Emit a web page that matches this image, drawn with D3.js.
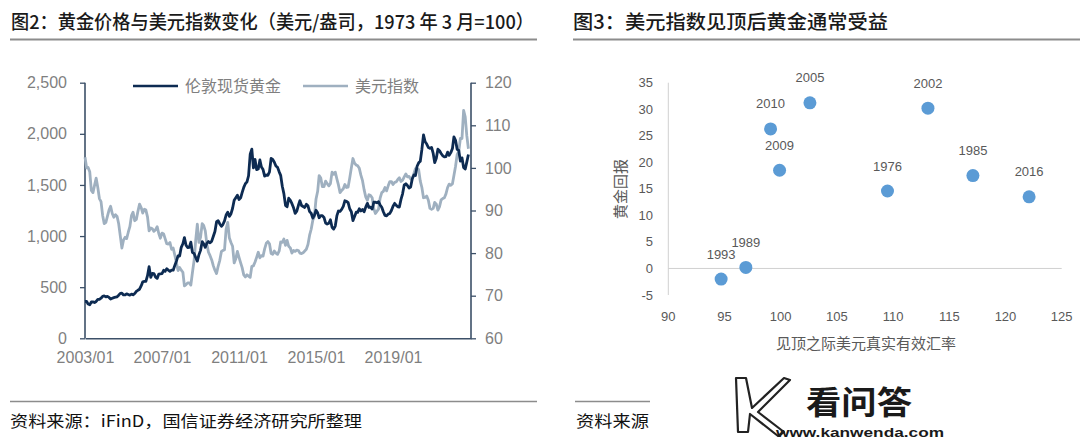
<!DOCTYPE html>
<html><head><meta charset="utf-8">
<script src="https://cdn.jsdelivr.net/npm/d3@7"></script>
<style>body{margin:0;background:#fff}svg{display:block}</style>
</head><body><svg id="c" width="1080" height="440"></svg>
<script>
// ---------- DATA ----------
const seriesStart = "2003-01"; // monthly series, Jan 2003 .. Dec 2022
const goldValues = [
 360,362,335,328,355,356,350,360,380,380,392,410,
 414,405,410,400,384,392,398,402,406,422,440,442,
 424,424,435,429,422,432,425,438,458,470,480,512,
 552,556,557,612,700,596,634,632,598,586,628,630,
 632,665,655,680,667,655,666,666,713,755,806,804,
 890,925,985,910,888,890,940,838,830,790,755,816,
 860,945,925,890,930,946,934,950,998,1045,1140,1150,
 1118,1096,1113,1149,1206,1234,1193,1216,1272,1350,1375,1400,
 1357,1374,1424,1476,1512,1530,1590,1800,1850,1666,1750,1650,
 1656,1744,1675,1650,1586,1597,1594,1627,1760,1750,1722,1685,
 1672,1628,1594,1488,1415,1300,1286,1370,1349,1317,1276,1222,
 1244,1301,1345,1299,1289,1280,1311,1296,1239,1223,1176,1202,
 1252,1227,1179,1199,1199,1182,1128,1118,1125,1159,1086,1068,
 1098,1200,1245,1242,1261,1290,1345,1340,1327,1267,1238,1151,
 1192,1234,1231,1267,1246,1260,1237,1283,1320,1280,1282,1265,
 1331,1331,1325,1335,1304,1282,1238,1202,1198,1215,1221,1250,
 1292,1320,1301,1286,1284,1359,1413,1500,1511,1495,1470,1479,
 1561,1597,1592,1683,1716,1732,1847,1990,1922,1900,1866,1858,
 1867,1808,1718,1760,1850,1835,1808,1785,1775,1777,1821,1790,
 1816,1856,1970,1937,1849,1837,1733,1765,1670,1655,1725,1798
];
const dxyValues = [
 102.5,100.0,100.1,99.1,94.7,94.2,95.9,97.6,95.4,92.8,92.1,88.9,
 86.9,87.2,88.6,90.1,91.0,89.3,88.4,89.0,88.6,86.9,84.0,81.2,
 83.1,83.7,83.4,84.9,86.2,88.8,89.6,87.6,87.9,89.8,91.5,90.7,
 89.4,90.3,90.1,88.5,85.2,85.9,85.7,85.1,85.5,86.2,84.6,83.5,
 84.7,84.5,83.4,82.2,82.1,82.5,80.9,81.2,79.5,77.8,75.9,76.6,
 76.0,75.5,72.3,72.6,73.0,73.0,72.5,75.5,78.3,83.0,86.8,82.5,
 83.7,86.9,86.5,85.2,82.1,80.2,79.4,78.4,77.0,76.0,75.2,76.9,
 78.3,80.4,80.6,80.8,85.6,87.2,83.6,82.5,81.6,77.7,78.7,80.4,
 79.0,77.7,76.6,74.9,74.4,74.9,74.6,74.3,76.9,77.0,77.9,79.0,
 80.2,78.9,79.4,79.3,81.0,82.3,82.7,82.2,79.9,79.7,80.5,80.0,
 79.7,80.5,82.6,82.5,83.3,81.8,83.0,81.6,81.2,80.0,80.6,80.4,
 80.7,80.6,80.0,79.9,80.1,80.5,80.9,82.0,84.2,85.6,87.7,88.6,
 92.7,94.5,98.2,97.6,95.6,95.6,96.9,96.3,95.8,96.3,99.0,98.5,
 99.0,97.4,96.0,94.2,94.7,95.1,96.1,95.4,95.5,97.6,100.0,102.2,
 101.1,100.7,100.5,99.9,98.3,97.0,94.9,93.2,92.4,93.7,93.5,93.0,
 90.4,89.3,89.8,90.3,92.9,94.2,94.5,95.4,94.6,95.8,96.8,96.8,
 96.1,96.6,96.7,97.3,97.7,96.8,97.1,97.9,98.6,97.9,98.0,97.4,
 97.5,98.7,99.8,99.8,99.6,96.9,95.4,93.0,93.1,93.4,92.4,90.5,
 90.3,90.5,91.9,91.5,90.1,90.9,92.5,92.8,93.0,93.9,95.4,96.2,
 95.9,96.3,98.2,100.4,103.1,103.9,106.9,106.9,113.5,112.0,107.5,104.5
];
const xTickLabels = ["2003/01","2007/01","2011/01","2015/01","2019/01"];
const goldTicks = [0,500,1000,1500,2000,2500];
const dxyTicks = [60,70,80,90,100,110,120];
const legendNames = ["伦敦现货黄金","美元指数"];

const scatterYears  = ["2005","2010","2009","2002","1976","1985","2016","1993","1989"];
const scatterDollar = [102.6, 99.1, 99.9, 113.1, 109.5, 117.1, 122.1, 94.7, 96.9];
const scatterGold   = [31.2, 26.3, 18.5, 30.2, 14.6, 17.5, 13.5, -2.0, 0.2];
const scatterXTicks = [90,95,100,105,110,115,120,125];
const scatterYTicks = [-5,0,5,10,15,20,25,30,35];

const title1 = "图2：黄金价格与美元指数变化（美元/盎司，1973 年 3 月=100）";
const title2 = "图3：美元指数见顶后黄金通常受益";
const source1 = "资料来源：iFinD，国信证券经济研究所整理";
const source2 = "资料来源";

// ---------- DRAW ----------
const svg = d3.select("#c");
const CJK = "'Noto Sans CJK SC','Noto Sans',sans-serif";
const LAT = "'Liberation Sans',Arial,sans-serif";
const GOLD = "#0d2b52", DXY = "#9fb0c0", AX = "#3c5068", TXT = "#7f7f7f";

// titles + rules
svg.append("text").attr("x",11).attr("y",29).text(title1)
  .attr("font-family",CJK).attr("font-size",19).attr("font-weight",500).attr("fill","#1a1a1a")
  .attr("textLength",523).attr("lengthAdjust","spacingAndGlyphs");
svg.append("text").attr("x",573).attr("y",29).text(title2)
  .attr("font-family",CJK).attr("font-size",19.5).attr("font-weight",500).attr("fill","#1a1a1a")
  .attr("textLength",315).attr("lengthAdjust","spacingAndGlyphs");
svg.append("line").attr("x1",10).attr("x2",537).attr("y1",39.5).attr("y2",39.5).attr("stroke","#8c8c8c").attr("stroke-width",2);
svg.append("line").attr("x1",573).attr("x2",1080).attr("y1",39.5).attr("y2",39.5).attr("stroke","#8c8c8c").attr("stroke-width",2);

// footers
svg.append("line").attr("x1",10).attr("x2",537).attr("y1",401.5).attr("y2",401.5).attr("stroke","#8c8c8c").attr("stroke-width",1.5);
svg.append("line").attr("x1",575).attr("x2",650).attr("y1",401.5).attr("y2",401.5).attr("stroke","#8c8c8c").attr("stroke-width",1.5);
svg.append("text").attr("x",10).attr("y",427).text(source1)
  .attr("font-family",CJK).attr("font-size",16).attr("fill","#111")
  .attr("textLength",352).attr("lengthAdjust","spacingAndGlyphs");
svg.append("text").attr("x",576).attr("y",427).text(source2)
  .attr("font-family",CJK).attr("font-size",16).attr("fill","#111")
  .attr("textLength",73).attr("lengthAdjust","spacingAndGlyphs");

// ---- left chart ----
const t0 = d3.timeParse("%Y-%m")(seriesStart);
const dates = goldValues.map((_,i)=>d3.timeMonth.offset(t0,i));
const x = d3.scaleTime().domain([new Date(2003,0,1), new Date(2023,0,19)]).range([85,471]);
const yL = d3.scaleLinear().domain([0,2500]).range([338.3,82.7]);
const yR = d3.scaleLinear().domain([60,120]).range([338.3,82.7]);

const gL = svg.append("g").attr("transform","translate(85,0)")
  .call(d3.axisLeft(yL).tickValues(goldTicks).tickFormat(d3.format(",")).tickSize(5).tickPadding(13));
const gR = svg.append("g").attr("transform","translate(471,0)")
  .call(d3.axisRight(yR).tickValues(dxyTicks).tickSize(5).tickPadding(9));
const xTickDates = xTickLabels.map(s=>d3.timeParse("%Y/%m")(s));
const gX = svg.append("g").attr("transform","translate(0,338.3)")
  .call(d3.axisBottom(x).tickValues(xTickDates).tickFormat(d3.timeFormat("%Y/%m")).tickSize(0).tickPadding(13));
[gL,gR,gX].forEach(g=>{
  g.selectAll(".domain").attr("stroke",AX).attr("stroke-width",1.6);
  g.selectAll(".tick line").attr("stroke",AX).attr("stroke-width",1.3);
  g.selectAll("text").attr("fill",TXT).attr("font-family",LAT).attr("font-size",16);
});
gL.select(".domain").attr("d","M0,82.7V338.3");
gR.select(".domain").attr("d","M0,82.7V338.3");

const lineDxy = d3.line().x((d,i)=>x(dates[i])).y(d=>yR(d));
const lineGold = d3.line().x((d,i)=>x(dates[i])).y(d=>yL(d));
svg.append("path").datum(dxyValues).attr("d",lineDxy).attr("fill","none").attr("stroke",DXY).attr("stroke-width",2.8).attr("stroke-linejoin","round");
svg.append("path").datum(goldValues).attr("d",lineGold).attr("fill","none").attr("stroke",GOLD).attr("stroke-width",2.8).attr("stroke-linejoin","round");

// legend
const leg = [{c:GOLD,x:133,name:legendNames[0]},{c:DXY,x:303,name:legendNames[1]}];
leg.forEach(l=>{
  svg.append("line").attr("x1",l.x).attr("x2",l.x+45).attr("y1",86).attr("y2",86).attr("stroke",l.c).attr("stroke-width",2.6);
  svg.append("text").attr("x",l.x+52).attr("y",92).text(l.name).attr("font-family",CJK).attr("font-size",16).attr("fill",TXT);
});

// ---- right chart ----
const sx = d3.scaleLinear().domain([90,125]).range([668.3,1061.7]);
const sy = d3.scaleLinear().domain([-5,35]).range([295,82.7]);
const SG = "#595959";
svg.append("line").attr("x1",sx(90)).attr("x2",sx(90)).attr("y1",sy(35)).attr("y2",sy(-5)).attr("stroke","#d0d0d0").attr("stroke-width",1);
svg.append("line").attr("x1",sx(90)).attr("x2",sx(125)).attr("y1",sy(0)).attr("y2",sy(0)).attr("stroke","#d0d0d0").attr("stroke-width",1);
svg.append("g").selectAll("text").data(scatterYTicks).join("text")
  .attr("x",653).attr("y",d=>sy(d)).attr("dy","0.35em").attr("text-anchor","end").text(d=>d)
  .attr("font-family",LAT).attr("font-size",13).attr("fill",SG);
svg.append("g").selectAll("text").data(scatterXTicks).join("text")
  .attr("x",d=>sx(d)).attr("y",316).attr("dy","0.35em").attr("text-anchor","middle").text(d=>d)
  .attr("font-family",LAT).attr("font-size",13).attr("fill",SG);
svg.append("text").attr("x",866).attr("y",349).attr("text-anchor","middle").text("见顶之际美元真实有效汇率")
  .attr("font-family",CJK).attr("font-size",15).attr("fill",SG);
svg.append("text").attr("transform","translate(626,189) rotate(-90)").attr("text-anchor","middle").text("黄金回报")
  .attr("font-family",CJK).attr("font-size",15).attr("fill",SG);
const pts = scatterYears.map((y,i)=>({y,dx:scatterDollar[i],g:scatterGold[i]}));
svg.append("g").selectAll("circle").data(pts).join("circle")
  .attr("cx",d=>sx(d.dx)).attr("cy",d=>sy(d.g)).attr("r",6.5).attr("fill","#5b9bd5");
svg.append("g").selectAll("text").data(pts).join("text")
  .attr("x",d=>sx(d.dx)).attr("y",d=>sy(d.g)-25).attr("dy","0.35em").attr("text-anchor","middle").text(d=>d.y)
  .attr("font-family",LAT).attr("font-size",13).attr("fill",SG);

// ---- watermark ----
const wm = svg.append("g");
wm.append("rect").attr("x",722).attr("y",372).attr("width",228).attr("height",68).attr("fill","#fff");
wm.append("path").attr("d","M736,378 L746,378 L752,408 L784,378 L790,380 L758,412 L784,432 L778,436 L750,414 L748,432 L738,432 Z")
  .attr("fill","#fff").attr("stroke","#222").attr("stroke-width",2.2).attr("stroke-linejoin","round");
wm.append("text").attr("x",806).attr("y",414).text("看问答").attr("font-family",CJK).attr("font-size",32).attr("font-weight",700).attr("fill","#1a1a1a")
  .attr("textLength",106).attr("lengthAdjust","spacingAndGlyphs");
wm.append("text").attr("x",776).attr("y",437).text("www.kanwenda.com").attr("font-family",LAT).attr("font-size",12.5).attr("font-weight",700).attr("fill","#1a1a1a")
  .attr("textLength",168).attr("lengthAdjust","spacingAndGlyphs");
</script></body></html>
